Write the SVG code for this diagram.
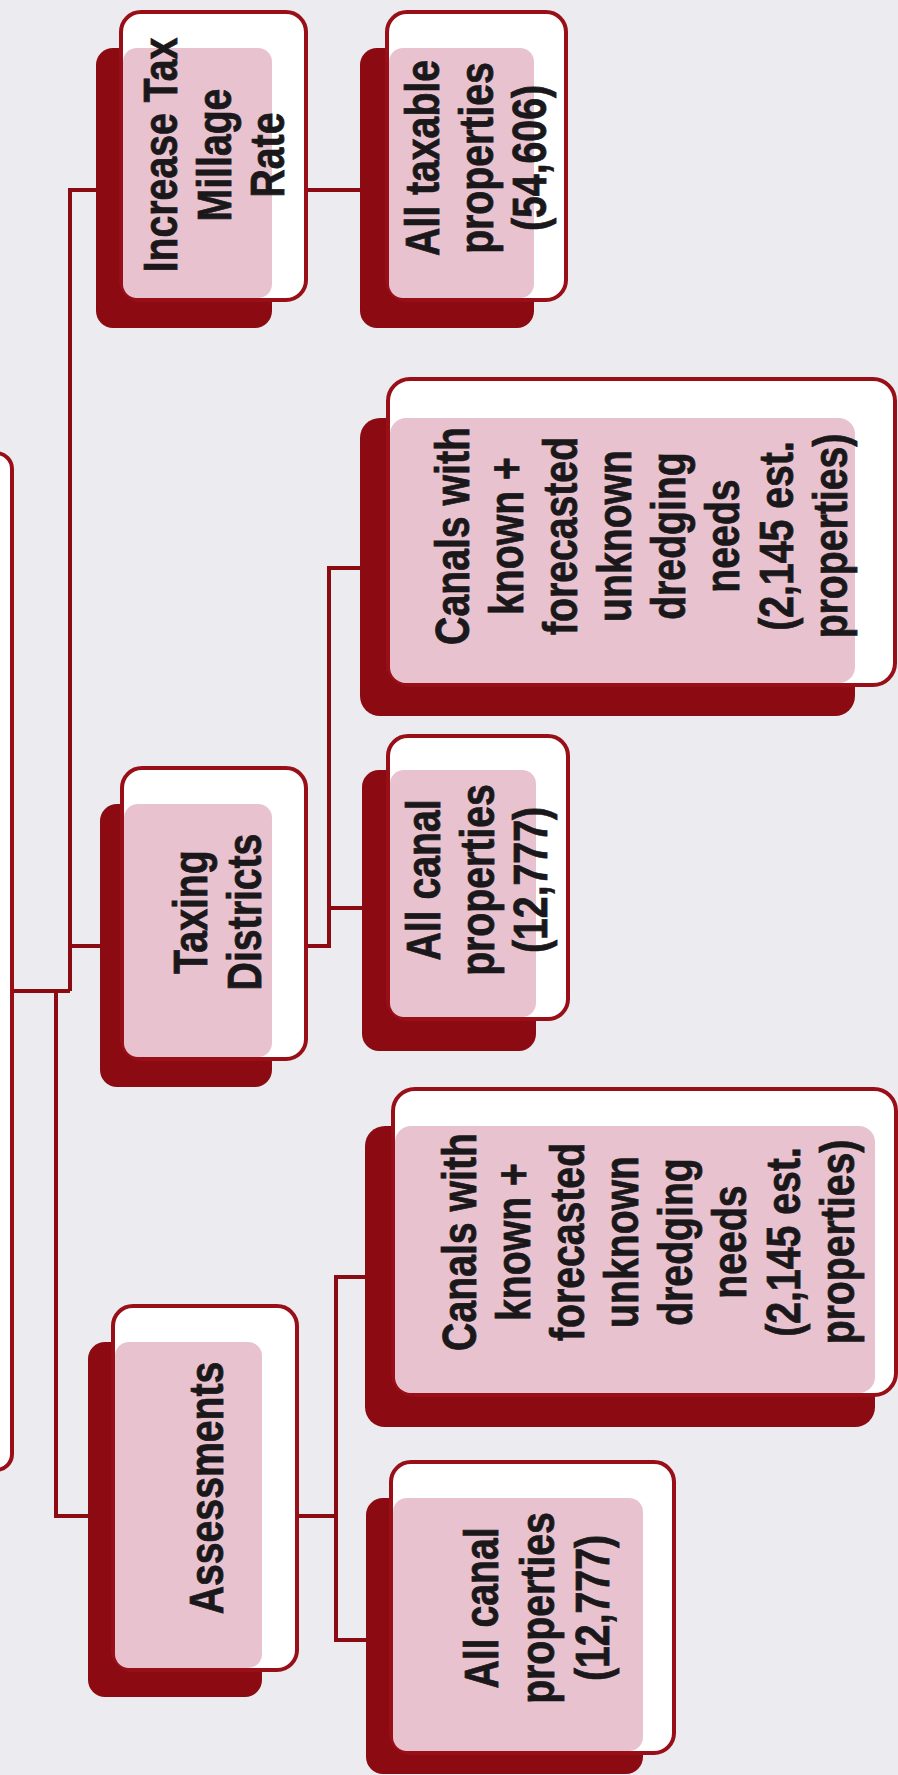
<svg xmlns="http://www.w3.org/2000/svg" width="898" height="1775" viewBox="0 0 898 1775">
<defs>
<style>
.bg{fill:#ecebef}
.dark{fill:#8c0b13}
.white{fill:#ffffff;stroke:#990f18;stroke-width:4}
.pink{fill:#e8c3cf}
.conn{fill:none;stroke:#8c0b13;stroke-width:4;stroke-linejoin:miter}
.lbl{font-family:"Liberation Sans",Arial,sans-serif;font-weight:bold;font-size:49px;fill:#1a181a;stroke:#1a181a;stroke-width:0.8;text-anchor:middle}
</style>
</defs>
<rect class="bg" x="0" y="0" width="898" height="1775"/>
<g id="connectors">
<path class="conn" d="M12,991 H70"/>
<path class="conn" d="M70,991 V190 H100"/>
<path class="conn" d="M70,946 H104"/>
<path class="conn" d="M56,991 V1516 H92"/>
<path class="conn" d="M300,190 H364"/>
<path class="conn" d="M300,946 H329 V568 H364"/>
<path class="conn" d="M329,908 H366"/>
<path class="conn" d="M292,1516 H336"/>
<path class="conn" d="M369,1277 H336 V1640 H370"/>
</g>
<g id="root">
<rect class="white" x="-300" y="453" width="312" height="1017" rx="16"/>
</g>
<g id="increase-tax">
<rect class="dark" x="96" y="48" width="176" height="280" rx="17"/>
<rect class="white" x="121" y="12" width="185" height="288" rx="20"/>
<rect class="pink" x="123" y="48" width="149" height="250" rx="14"/>
<text class="lbl" transform="translate(213,155) rotate(-90) scale(0.8,1)"><tspan x="0" y="-36.5">Increase Tax</tspan><tspan x="0" dy="54">Millage</tspan><tspan x="0" dy="54">Rate</tspan></text>
</g>
<g id="all-taxable">
<rect class="dark" x="360" y="48" width="174" height="280" rx="17"/>
<rect class="white" x="387" y="12" width="179" height="288" rx="20"/>
<rect class="pink" x="389" y="48" width="145" height="250" rx="14"/>
<text class="lbl" transform="translate(475,158) rotate(-90) scale(0.8,1)"><tspan x="0" y="-36.5">All taxable</tspan><tspan x="0" dy="54">properties</tspan><tspan x="0" dy="54">(54,606)</tspan></text>
</g>
<g id="canals-taxing">
<rect class="dark" x="360" y="418" width="495" height="298" rx="20"/>
<rect class="white" x="388" y="379" width="507" height="306" rx="22"/>
<rect class="pink" x="390" y="418" width="465" height="265" rx="16"/>
<text class="lbl" transform="translate(641,536) rotate(-90) scale(0.8,1)"><tspan x="0" y="-172">Canals with</tspan><tspan x="0" dy="54">known +</tspan><tspan x="0" dy="54">forecasted</tspan><tspan x="0" dy="54">unknown</tspan><tspan x="0" dy="54">dredging</tspan><tspan x="0" dy="54">needs</tspan><tspan x="0" dy="54">(2,145 est.</tspan><tspan x="0" dy="54">properties)</tspan></text>
</g>
<g id="canal-taxing">
<rect class="dark" x="362" y="770" width="174" height="281" rx="17"/>
<rect class="white" x="388" y="736" width="180" height="283" rx="20"/>
<rect class="pink" x="390" y="770" width="146" height="247" rx="14"/>
<text class="lbl" transform="translate(476,880) rotate(-90) scale(0.8,1)"><tspan x="0" y="-36.5">All canal</tspan><tspan x="0" dy="54">properties</tspan><tspan x="0" dy="54">(12,777)</tspan></text>
</g>
<g id="taxing-districts">
<rect class="dark" x="100" y="804" width="172" height="283" rx="17"/>
<rect class="white" x="122" y="768" width="184" height="291" rx="20"/>
<rect class="pink" x="124" y="804" width="148" height="253" rx="14"/>
<text class="lbl" transform="translate(216,912) rotate(-90) scale(0.8,1)"><tspan x="0" y="-9.5">Taxing</tspan><tspan x="0" dy="55">Districts</tspan></text>
</g>
<g id="assessments">
<rect class="dark" x="88" y="1342" width="174" height="355" rx="17"/>
<rect class="white" x="113" y="1306" width="184" height="364" rx="20"/>
<rect class="pink" x="115" y="1342" width="147" height="326" rx="14"/>
<text class="lbl" transform="translate(205,1488) rotate(-90) scale(0.8,1)"><tspan x="0" y="17.5">Assessments</tspan></text>
</g>
<g id="canals-assess">
<rect class="dark" x="365" y="1126" width="510" height="301" rx="20"/>
<rect class="white" x="393" y="1089" width="503" height="306" rx="22"/>
<rect class="pink" x="395" y="1126" width="480" height="267" rx="16"/>
<text class="lbl" transform="translate(648,1242) rotate(-90) scale(0.8,1)"><tspan x="0" y="-172">Canals with</tspan><tspan x="0" dy="54">known +</tspan><tspan x="0" dy="54">forecasted</tspan><tspan x="0" dy="54">unknown</tspan><tspan x="0" dy="54">dredging</tspan><tspan x="0" dy="54">needs</tspan><tspan x="0" dy="54">(2,145 est.</tspan><tspan x="0" dy="54">properties)</tspan></text>
</g>
<g id="canal-assess">
<rect class="dark" x="366" y="1498" width="277" height="276" rx="17"/>
<rect class="white" x="391" y="1462" width="283" height="291" rx="20"/>
<rect class="pink" x="393" y="1498" width="250" height="253" rx="14"/>
<text class="lbl" transform="translate(534,1608) rotate(-90) scale(0.8,1)"><tspan x="0" y="-36.5">All canal</tspan><tspan x="0" dy="56">properties</tspan><tspan x="0" dy="56">(12,777)</tspan></text>
</g>
</svg>
